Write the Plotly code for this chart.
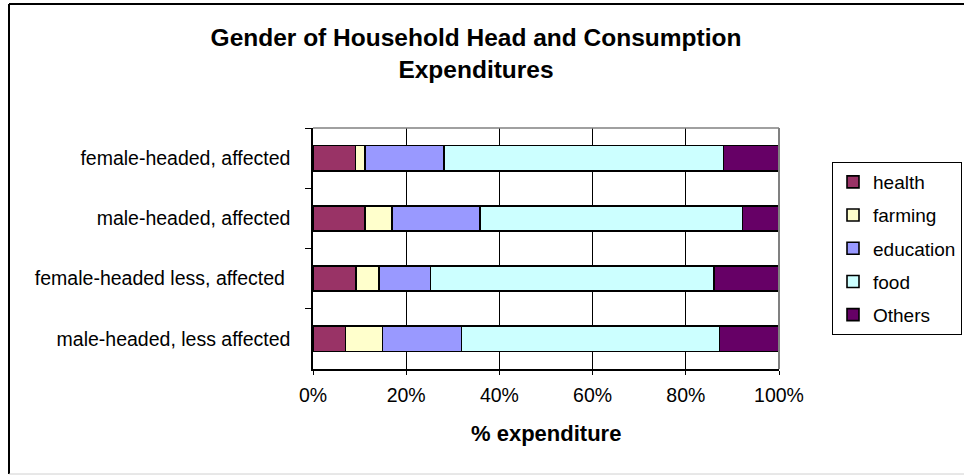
import plotly.graph_objects as go

# Household groups, listed top to bottom
groups = [
    "female-headed, affected",
    "male-headed, affected",
    "female-headed less, affected\u00a0",
    "male-headed, less affected",
]

# Share of consumption expenditure (%) per category
health = [9.1, 11.2, 9.2, 7.0]
farming = [2.1, 5.8, 4.9, 7.9]
education = [16.9, 18.9, 11.1, 17.0]
food = [60.0, 56.3, 60.9, 55.3]
others = [11.9, 7.8, 13.9, 12.8]

series = [
    ("health", health, "#993366"),
    ("farming", farming, "#FFFFCC"),
    ("education", education, "#9999FF"),
    ("food", food, "#CCFFFF"),
    ("Others", others, "#660066"),
]

x_ticks = [0, 20, 40, 60, 80, 100]
x_tick_text = ["0%", "20%", "40%", "60%", "80%", "100%"]

FONT = "Liberation Sans, Arial, sans-serif"

fig = go.Figure()
for name, vals, color in series:
    fig.add_trace(go.Bar(
        y=groups, x=vals, name=name, orientation="h",
        marker=dict(color=color, line=dict(color="#000000", width=1.6)),
        width=0.42, legendgroup=name,
    ))

W, H = 964, 475
L, R, T, B = 313, 185, 128, 106
pw, ph = W - L - R, H - T - B


def px_x(p):
    return (p - L) / pw


def px_y(p):
    return (H - B - p) / ph


shapes = [
    # plot-area border on the top and right
    dict(type="line", xref="paper", yref="paper", x0=0, x1=1, y0=1, y1=1,
         line=dict(color="#808080", width=1.5), layer="above"),
    dict(type="line", xref="paper", yref="paper", x0=1, x1=1, y0=0, y1=1,
         line=dict(color="#808080", width=2), layer="above"),
    # chart frame
    dict(type="line", xref="paper", yref="paper", x0=px_x(9), x1=px_x(975),
         y0=px_y(4), y1=px_y(4), line=dict(color="#000000", width=2)),
    dict(type="line", xref="paper", yref="paper", x0=px_x(9), x1=px_x(9),
         y0=px_y(4), y1=px_y(474), line=dict(color="#000000", width=2)),
    dict(type="line", xref="paper", yref="paper", x0=px_x(9), x1=px_x(975),
         y0=px_y(474), y1=px_y(474), line=dict(color="#d0d0d0", width=1)),
]

# x-axis title, placed under the tick labels
annotations = [
    dict(text="<b>% expenditure</b>", xref="paper", yref="paper",
         x=0.5, y=px_y(433), xanchor="center", yanchor="middle",
         showarrow=False, font=dict(family=FONT, size=22, color="#000000")),
]

fig.update_layout(
    width=W, height=H,
    margin=dict(l=L, r=R, t=T, b=B, pad=0, autoexpand=False),
    barmode="stack",
    paper_bgcolor="#FFFFFF", plot_bgcolor="#FFFFFF",
    font=dict(family=FONT, size=19.5, color="#000000"),
    title=dict(
        text="<b>Gender of Household Head and Consumption<br>Expenditures</b>",
        font=dict(family=FONT, size=24.5, color="#000000"),
        xref="paper", x=px_x(476), xanchor="center",
        yref="container", y=1 - 46 / H, yanchor="top",
    ),
    xaxis=dict(
        range=[0, 100], tickvals=x_ticks, ticktext=x_tick_text,
        showgrid=True, gridcolor="#000000", gridwidth=1,
        showline=True, linecolor="#000000", linewidth=1.5,
        ticks="outside", ticklen=4, tickcolor="#000000",
        ticklabelstandoff=4, zeroline=False,
    ),
    yaxis=dict(
        autorange="reversed", showgrid=False,
        showline=True, linecolor="#000000", linewidth=1.5,
        ticks="outside", ticklen=6, tickcolor="#000000",
        tickson="boundaries", ticklabelstandoff=17,
    ),
    legend=dict(
        x=px_x(832), xanchor="left", y=px_y(162), yanchor="top",
        traceorder="grouped", tracegroupgap=5.5,
        bordercolor="#000000", borderwidth=1, bgcolor="#FFFFFF",
        font=dict(size=19),
    ),
    annotations=annotations,
    shapes=shapes,
    showlegend=True,
)

fig.write_html("out.html")
